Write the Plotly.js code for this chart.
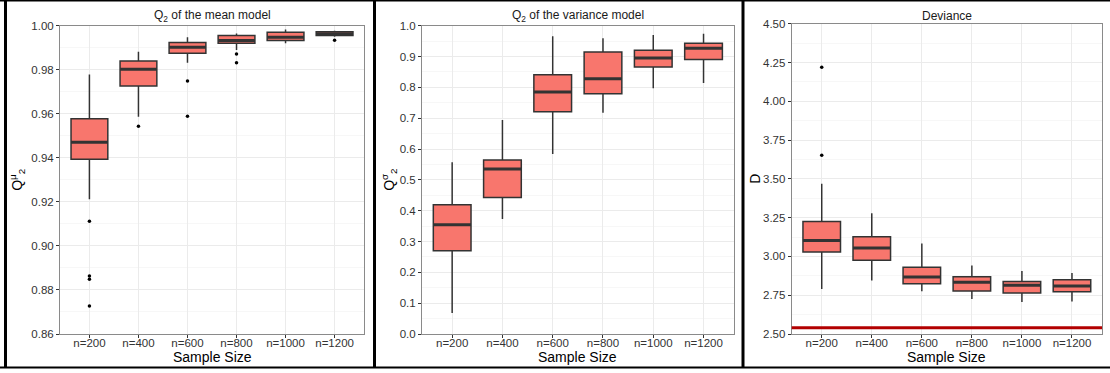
<!DOCTYPE html>
<html>
<head>
<meta charset="utf-8">
<script src="https://cdn.plot.ly/plotly-3.0.1.min.js"></script>
<style>
  html, body { margin: 0; padding: 0; background: #ffffff; }
  #chart { width: 1110px; height: 373px; }
</style>
</head>
<body>
<div id="chart"></div>
<script>
// ---------------- data ----------------
const categories = ['n=200', 'n=400', 'n=600', 'n=800', 'n=1000', 'n=1200'];

// Panel 1: Q2 of the mean model
const meanLower  = [0.9212, 0.9587, 0.9832, 0.9890, 0.9920, 0.9950];
const meanQ1     = [0.9394, 0.9726, 0.9875, 0.9920, 0.9933, 0.9955];
const meanMedian = [0.9471, 0.9802, 0.9902, 0.9933, 0.9947, 0.9964];
const meanQ3     = [0.9577, 0.9840, 0.9924, 0.9956, 0.9970, 0.9973];
const meanUpper  = [0.9778, 0.9882, 0.9947, 0.9965, 0.9983, 0.9977];
const meanOutlierCat = ['n=200', 'n=200', 'n=200', 'n=200', 'n=400', 'n=600', 'n=600', 'n=800', 'n=800', 'n=1200'];
const meanOutlierVal = [0.9112, 0.8863, 0.8849, 0.8727, 0.9543, 0.9749, 0.9589, 0.9871, 0.9832, 0.9934];

// Panel 2: Q2 of the variance model
const varLower  = [0.068, 0.373, 0.584, 0.718, 0.797, 0.814];
const varQ1     = [0.270, 0.443, 0.721, 0.779, 0.866, 0.890];
const varMedian = [0.354, 0.535, 0.785, 0.828, 0.895, 0.927];
const varQ3     = [0.419, 0.564, 0.841, 0.915, 0.920, 0.943];
const varUpper  = [0.557, 0.694, 0.966, 0.959, 0.970, 0.974];
const varOutlierCat = [];
const varOutlierVal = [];

// Panel 3: Deviance
const devLower  = [2.790, 2.845, 2.775, 2.725, 2.706, 2.710];
const devQ1     = [3.028, 2.976, 2.824, 2.777, 2.764, 2.773];
const devMedian = [3.103, 3.054, 2.867, 2.833, 2.815, 2.809];
const devQ3     = [3.225, 3.127, 2.931, 2.869, 2.839, 2.850];
const devUpper  = [3.468, 3.279, 3.084, 2.942, 2.906, 2.893];
const devOutlierCat = ['n=200', 'n=200'];
const devOutlierVal = [4.219, 3.652];
const devianceReference = [2.54];

// ---------------- layout helpers ----------------
const W = 1110, H = 373;
const px = v => v / W;
const py = v => 1 - v / H;
const FONT = 'Liberation Sans, Arial, Helvetica, sans-serif';
const BOX_W = 0.75;
const idx = categories.map((c, i) => i);

const panels = [
  { ax: '', x0: 60, x1: 364, y0: 25.7, y1: 334, range: [0.86, 1.00], dtick: 0.02, fmt: '.2f',
    lower: meanLower, q1: meanQ1, med: meanMedian, q3: meanQ3, upper: meanUpper,
    oc: meanOutlierCat, ov: meanOutlierVal,
    title: 'Q<sub>2</sub> of the mean model', ytitle: 'Q<sup>μ</sup><sub>2</sub>', ytx: 17 },
  { ax: '2', x0: 422, x1: 733.7, y0: 25.7, y1: 334, range: [0, 1.0], dtick: 0.1, fmt: '.1f',
    lower: varLower, q1: varQ1, med: varMedian, q3: varQ3, upper: varUpper,
    oc: varOutlierCat, ov: varOutlierVal,
    title: 'Q<sub>2</sub> of the variance model', ytitle: 'Q<sup>σ</sup><sub>2</sub>', ytx: 389 },
  { ax: '3', x0: 791.7, x1: 1102, y0: 23.7, y1: 334, range: [2.5, 4.5], dtick: 0.25, fmt: '.2f',
    lower: devLower, q1: devQ1, med: devMedian, q3: devQ3, upper: devUpper,
    oc: devOutlierCat, ov: devOutlierVal,
    title: 'Deviance', ytitle: 'D', ytx: 755 }
];

const traces = [];
const layout = {
  width: W, height: H,
  margin: { l: 0, r: 0, t: 0, b: 0 },
  paper_bgcolor: '#ffffff',
  plot_bgcolor: '#ffffff',
  showlegend: false,
  font: { family: FONT, color: '#333333' },
  annotations: [],
  shapes: []
};

panels.forEach(p => {
  const xa = 'x' + p.ax, ya = 'y' + p.ax;
  const xk = 'xaxis' + p.ax, yk = 'yaxis' + p.ax;

  // boxes
  traces.push({
    type: 'box', xaxis: xa, yaxis: ya,
    x: idx, q1: p.q1, median: p.med, q3: p.q3,
    lowerfence: p.lower, upperfence: p.upper,
    width: BOX_W, whiskerwidth: 0, boxpoints: false,
    fillcolor: '#F8766D',
    line: { color: '#333333', width: 1.5 },
    hoverinfo: 'skip'
  });

  // thick median lines
  const mx = [], my = [];
  p.med.forEach((m, i) => { mx.push(i - BOX_W / 2, i + BOX_W / 2, null); my.push(m, m, null); });
  traces.push({
    type: 'scatter', mode: 'lines', xaxis: xa, yaxis: ya,
    x: mx, y: my, line: { color: '#333333', width: 3 }, hoverinfo: 'skip'
  });

  // outliers
  if (p.oc.length) {
    traces.push({
      type: 'scatter', mode: 'markers', xaxis: xa, yaxis: ya,
      x: p.oc.map(c => categories.indexOf(c)), y: p.ov,
      marker: { color: '#000000', size: 3.5 }, hoverinfo: 'skip'
    });
  }

  layout[xk] = {
    domain: [px(p.x0), px(p.x1)], anchor: ya,
    range: [-0.6, 5.6], tickvals: idx, ticktext: categories,
    showgrid: true, gridcolor: '#ebebeb', gridwidth: 1,
    zeroline: false, showline: true, linecolor: '#8a8a8a', linewidth: 1, mirror: true,
    ticks: 'outside', ticklen: 3, tickcolor: '#333333', tickwidth: 1,
    ticklabelstandoff: -5,
    tickfont: { family: FONT, size: 11.5, color: '#333333' },
    fixedrange: true
  };
  layout[yk] = {
    domain: [py(p.y1), py(p.y0)], anchor: xa,
    range: p.range, dtick: p.dtick, tick0: p.range[0], tickformat: p.fmt,
    showgrid: true, gridcolor: '#ebebeb', gridwidth: 1,
    minor: { dtick: p.dtick / 2, showgrid: true, gridcolor: '#f5f5f5', gridwidth: 0.8, ticks: '' },
    zeroline: false, showline: true, linecolor: '#8a8a8a', linewidth: 1, mirror: true,
    ticks: 'outside', ticklen: 3, tickcolor: '#333333', tickwidth: 1,
    tickfont: { family: FONT, size: 11.5, color: '#333333' },
    fixedrange: true
  };

  const cx = px((p.x0 + p.x1) / 2);
  layout.annotations.push({
    xref: 'paper', yref: 'paper', x: cx, y: py(16), xanchor: 'center', yanchor: 'middle',
    text: p.title, showarrow: false, font: { family: FONT, size: 12, color: '#1a1a1a' }
  });
  layout.annotations.push({
    xref: 'paper', yref: 'paper', x: cx, y: py(357), xanchor: 'center', yanchor: 'middle',
    text: 'Sample Size', showarrow: false, font: { family: FONT, size: 14, color: '#000000' }
  });
  layout.annotations.push({
    xref: 'paper', yref: 'paper', x: px(p.ytx), y: py((p.y0 + p.y1) / 2), xanchor: 'center', yanchor: 'middle',
    text: p.ytitle, textangle: -90, showarrow: false, font: { family: FONT, size: 14, color: '#000000' }
  });
});

// reference line in the deviance panel
devianceReference.forEach(v => {
  layout.shapes.push({
    type: 'line', xref: 'x3 domain', yref: 'y3', x0: 0, x1: 1, y0: v, y1: v,
    line: { color: '#B20000', width: 3 }
  });
});

// black frames between the panels
const frameLines = [
  [0, 0.5, 1110, 0.5],
  [5.5, 0, 5.5, 368],
  [374.5, 0, 374.5, 368],
  [743, 0, 743, 368],
  [0, 367.5, 1110, 367.5]
];
frameLines.forEach(f => {
  layout.shapes.push({
    type: 'line', xref: 'paper', yref: 'paper',
    x0: px(f[0]), y0: py(f[1]), x1: px(f[2]), y1: py(f[3]),
    line: { color: '#000000', width: (f[0] === f[2]) ? 3 : 2 }
  });
});

Plotly.newPlot('chart', traces, layout, { displayModeBar: false, staticPlot: true });
</script>
</body>
</html>
